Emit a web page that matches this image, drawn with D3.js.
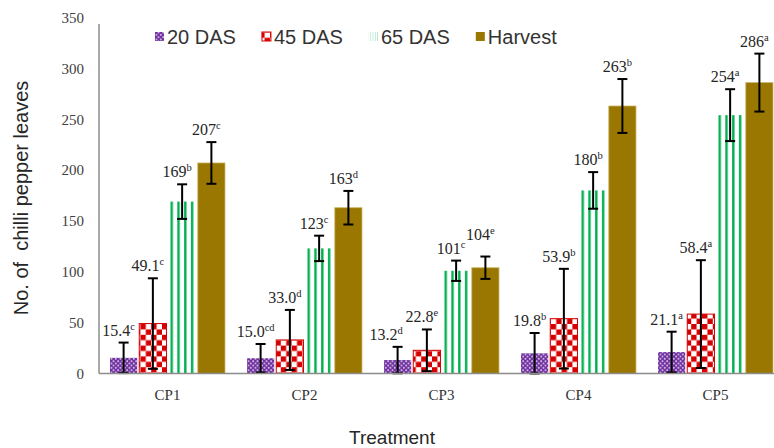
<!DOCTYPE html>
<html>
<head>
<meta charset="utf-8">
<script src="https://cdn.jsdelivr.net/npm/d3@7"></script>
<style>
  html, body { margin: 0; padding: 0; background: #fff; }
  svg { display: block; }
</style>
</head>
<body>
<svg id="chart" width="774" height="448"></svg>
<script>
// Treatments on the x axis
const treatments = ["CP1", "CP2", "CP3", "CP4", "CP5"];
// Sampling stages (series)
const stages = ["20 DAS", "45 DAS", "65 DAS", "Harvest"];

// Mean number of leaves per stage
const das20   = [15.4, 15.0, 13.2, 19.8, 21.1];
const das45   = [49.1, 33.0, 22.8, 53.9, 58.4];
const das65   = [169, 123, 101, 180, 254];
const harvest = [207, 163, 104, 263, 286];

// Error bar half-lengths
const err20   = [15, 14, 13, 20, 20];
const err45   = [44.5, 29.5, 20.5, 49, 53];
const err65   = [17, 12.5, 10, 18, 25.5];
const errHarv = [20.5, 16.5, 11, 26.5, 28.5];

// Significance letters
const sig20   = ["c", "cd", "d", "b", "a"];
const sig45   = ["c", "d", "e", "b", "a"];
const sig65   = ["b", "c", "c", "b", "a"];
const sigHarv = ["c", "d", "e", "b", "a"];

// Value labels as printed (one decimal for the early stages)
const lab20   = ["15.4", "15.0", "13.2", "19.8", "21.1"];
const lab45   = ["49.1", "33.0", "22.8", "53.9", "58.4"];
const lab65   = ["169", "123", "101", "180", "254"];
const labHarv = ["207", "163", "104", "263", "286"];

const yTicks = [0, 50, 100, 150, 200, 250, 300, 350];

const seriesValues = [das20, das45, das65, harvest];
const seriesErr = [err20, err45, err65, errHarv];
const seriesSig = [sig20, sig45, sig65, sigHarv];
const seriesLab = [lab20, lab45, lab65, labHarv];
const fills = ["url(#dots)", "url(#checker)", "url(#stripes)", "#9a7700"];

const rows = [];
treatments.forEach((t, i) => {
  stages.forEach((s, j) => {
    rows.push({ t, s, v: seriesValues[j][i], e: seriesErr[j][i],
                sig: seriesSig[j][i], lab: seriesLab[j][i], j });
  });
});

const svg = d3.select("#chart");
const serif = "'Liberation Serif', 'DejaVu Serif', serif";
const sans = "'Liberation Sans', Arial, sans-serif";

// Fill patterns
const defs = svg.append("defs");
const dots = defs.append("pattern").attr("id", "dots")
  .attr("patternUnits", "userSpaceOnUse").attr("width", 4.5).attr("height", 4.5);
dots.append("rect").attr("width", 4.5).attr("height", 4.5).attr("fill", "#7030a0");
dots.append("circle").attr("cx", 1.1).attr("cy", 1.1).attr("r", 0.85).attr("fill", "#eee4f5");
dots.append("circle").attr("cx", 3.35).attr("cy", 3.35).attr("r", 0.85).attr("fill", "#eee4f5");

const checker = defs.append("pattern").attr("id", "checker")
  .attr("patternUnits", "userSpaceOnUse").attr("width", 10.8).attr("height", 10.8);
checker.append("rect").attr("width", 10.8).attr("height", 10.8).attr("fill", "#fff");
checker.append("rect").attr("width", 5.4).attr("height", 5.4).attr("fill", "#d60000");
checker.append("rect").attr("x", 5.4).attr("y", 5.4).attr("width", 5.4).attr("height", 5.4).attr("fill", "#d60000");

const stripes = defs.append("pattern").attr("id", "stripes")
  .attr("patternUnits", "objectBoundingBox").attr("width", 0.25).attr("height", 1)
  .attr("patternContentUnits", "userSpaceOnUse");
stripes.append("rect").attr("width", 40).attr("height", 1000).attr("fill", "#fff");
stripes.append("rect").attr("x", 2).attr("width", 2.4).attr("height", 1000).attr("fill", "#00b050");

// Scales
const x0 = d3.scaleBand().domain(treatments).range([99, 784]);
const x1 = d3.scaleBand().domain(stages).range([11, 126]).paddingInner(0.07);
const y = d3.scaleLinear().domain([0, 350]).range([373.5, 17.5]);

// Y axis: tick labels only, plus a grey spine
const yAxis = d3.axisLeft(y).tickValues(yTicks).tickSize(0).tickPadding(15);
const gy = svg.append("g").attr("transform", "translate(99,0)").call(yAxis);
gy.select(".domain").remove();
gy.selectAll("text").attr("font-family", serif).attr("font-size", 15).attr("fill", "#404040");
svg.append("line").attr("x1", 99).attr("x2", 99).attr("y1", 24).attr("y2", y(0))
  .attr("stroke", "#8c8c8c").attr("stroke-width", 1.5);

// Bars
const groups = svg.append("g").selectAll("g").data(rows).join("g");
groups.append("rect")
  .attr("x", d => x0(d.t) + x1(d.s))
  .attr("y", d => y(d.v))
  .attr("width", x1.bandwidth())
  .attr("height", d => y(0) - y(d.v))
  .attr("fill", d => fills[d.j])
  .attr("stroke", d => d.j === 1 ? "#d60000" : d.j === 3 ? "#cdb86a" : "none")
  .attr("stroke-width", d => d.j === 1 ? 1 : 0.8);

// Error bars
const cx = d => x0(d.t) + x1(d.s) + x1.bandwidth() / 2;
const eb = svg.append("g").attr("stroke", "#000").attr("stroke-width", 2);
rows.forEach(d => {
  const lo = y(Math.max(0, d.v - d.e)), hi = y(d.v + d.e), c = cx(d);
  eb.append("line").attr("x1", c).attr("x2", c).attr("y1", lo).attr("y2", hi);
  eb.append("line").attr("x1", c - 5).attr("x2", c + 5).attr("y1", lo).attr("y2", lo);
  eb.append("line").attr("x1", c - 5).attr("x2", c + 5).attr("y1", hi).attr("y2", hi);
});

// Value labels with significance letters
const labels = svg.append("g").selectAll("text").data(rows).join("text")
  .attr("x", d => cx(d) - 5)
  .attr("y", d => y(d.v + d.e) - 7)
  .attr("text-anchor", "middle")
  .attr("font-family", serif).attr("font-size", 16).attr("fill", "#262626");
labels.append("tspan").text(d => d.lab);
labels.append("tspan").attr("font-size", 10.5).attr("dy", -6).text(d => d.sig);

// Resolve crowded neighbouring labels: nudge the lower left label sideways,
// otherwise lift the right one
const nodes = labels.nodes();
const gap = 4;
for (let k = 1; k < nodes.length; k++) {
  const a = nodes[k - 1].getBBox(), b = nodes[k].getBBox();
  const overlapX = a.x + a.width + gap > b.x && b.x + b.width + gap > a.x;
  const overlapY = a.y + a.height > b.y && b.y + b.height > a.y;
  if (!(overlapX && overlapY)) continue;
  const ya = +nodes[k - 1].getAttribute("y"), yb = +nodes[k].getAttribute("y");
  if (ya - yb > 10) {
    const shift = a.x + a.width + 2 - b.x;
    nodes[k - 1].setAttribute("x", +nodes[k - 1].getAttribute("x") - shift);
  } else {
    nodes[k].setAttribute("y", yb - (b.y + b.height - a.y) + 4);
  }
}

// X axis baseline
svg.append("line").attr("x1", 99).attr("x2", 774).attr("y1", y(0)).attr("y2", y(0))
  .attr("stroke", "#8c8c8c").attr("stroke-width", 1.5);

// Category labels
svg.append("g").selectAll("text").data(treatments).join("text")
  .attr("x", d => x0(d) + x0.bandwidth() / 2)
  .attr("y", 400)
  .attr("text-anchor", "middle")
  .attr("font-family", serif).attr("font-size", 15).attr("fill", "#333")
  .text(d => d);

// Axis titles
svg.append("text")
  .attr("transform", "translate(28,198) rotate(-90)")
  .attr("text-anchor", "middle")
  .attr("font-family", sans).attr("font-size", 20).attr("fill", "#262626")
  .attr("xml:space", "preserve")
  .text("No. of  chilli pepper leaves");
svg.append("text")
  .attr("x", 392).attr("y", 444)
  .attr("text-anchor", "middle")
  .attr("font-family", sans).attr("font-size", 19).attr("fill", "#262626")
  .text("Treatment");

// Legend
const legend = svg.append("g");
let lx = 155;
stages.forEach((s, j) => {
  legend.append("rect").attr("x", lx).attr("y", 32).attr("width", 9).attr("height", 9)
    .attr("fill", fills[j])
    .attr("stroke", j === 1 ? "#d60000" : "none").attr("stroke-width", 1);
  const t = legend.append("text").attr("x", lx + 12).attr("y", 44)
    .attr("font-family", sans).attr("font-size", 20).attr("fill", "#333").text(s);
  lx += 12 + t.node().getComputedTextLength() + 26;
});
</script>
</body>
</html>
